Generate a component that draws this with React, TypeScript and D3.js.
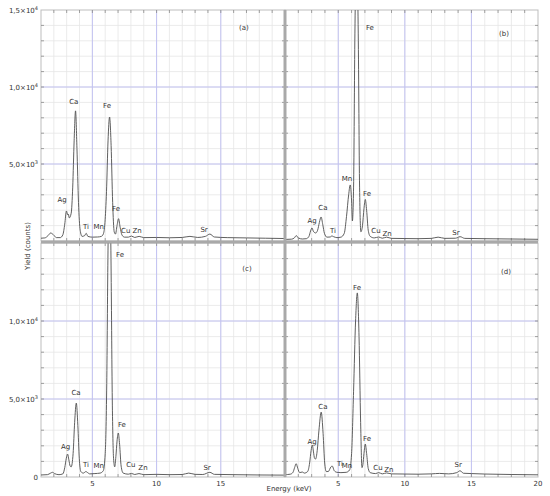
import React from 'react';
import * as d3 from 'd3';

type Pt = [number, number];
type Lbl = [string, number, number];

// spectra: [energy keV, counts]
const spectrumA: Pt[] = [
  [1.0, 180], [1.3, 200], [1.55, 350], [1.75, 520], [1.95, 420], [2.2, 220], [2.5, 220], [2.7, 400],
  [2.85, 1100], [2.98, 1950], [3.08, 1700], [3.13, 1750], [3.2, 1500], [3.35, 1800], [3.47, 3500],
  [3.58, 6500], [3.69, 8450], [3.8, 6000], [3.92, 2500], [4.05, 700], [4.2, 300], [4.4, 350], [4.52, 500],
  [4.65, 300], [5.0, 250], [5.4, 260], [5.7, 300], [5.85, 450], [5.98, 1200], [6.1, 3200], [6.22, 6500],
  [6.34, 8050], [6.46, 6200], [6.58, 2500], [6.7, 600], [6.8, 450], [6.92, 1000], [7.04, 1450], [7.16, 900],
  [7.3, 400], [7.5, 250], [7.8, 250], [8.04, 320], [8.3, 230], [8.64, 300], [9.0, 220], [10, 230], [11, 210],
  [12, 230], [12.6, 300], [13.2, 230], [13.8, 300], [14.15, 450], [14.5, 260], [15.5, 220], [17, 200],
  [18.5, 180], [20, 160],
];

const spectrumB: Pt[] = [
  [1.0, 100], [1.5, 120], [1.7, 200], [1.85, 350], [2.0, 200], [2.3, 130], [2.6, 150], [2.8, 300],
  [2.92, 650], [3.03, 850], [3.12, 650], [3.2, 560], [3.3, 520], [3.45, 700], [3.58, 1200], [3.71, 1560],
  [3.84, 1050], [3.96, 500], [4.15, 250], [4.4, 260], [4.52, 330], [4.65, 280], [4.9, 220], [5.2, 250],
  [5.45, 500], [5.62, 1600], [5.78, 3000], [5.9, 3640], [6.0, 2600], [6.06, 1300], [6.15, 3500],
  [6.25, 13500], [6.38, 19000], [6.5, 13500], [6.6, 3500], [6.7, 600], [6.82, 1000], [6.93, 2100],
  [7.03, 2700], [7.13, 2000], [7.25, 700], [7.4, 300], [7.7, 200], [8.04, 260], [8.3, 180], [8.63, 250],
  [9, 170], [10, 160], [11, 150], [12, 170], [12.5, 250], [13, 170], [13.8, 180], [14.15, 280], [14.5, 170],
  [16, 150], [18, 130], [20, 110],
];

const spectrumC: Pt[] = [
  [1.0, 130], [1.5, 150], [1.75, 250], [1.9, 300], [2.05, 220], [2.4, 150], [2.7, 200], [2.85, 600],
  [2.97, 1200], [3.07, 1470], [3.17, 1100], [3.27, 700], [3.35, 650], [3.5, 1500], [3.62, 3500],
  [3.75, 4740], [3.87, 3300], [3.98, 1200], [4.1, 350], [4.3, 250], [4.5, 350], [4.6, 300], [4.8, 200],
  [5.2, 220], [5.6, 250], [5.85, 400], [6.0, 1500], [6.12, 6000], [6.21, 14000], [6.33, 20000],
  [6.45, 14000], [6.55, 5000], [6.65, 1200], [6.74, 650], [6.83, 1300], [6.92, 2300], [7.02, 2820],
  [7.12, 2100], [7.24, 700], [7.4, 250], [7.8, 180], [8.04, 230], [8.3, 160], [8.63, 220], [9, 150],
  [10, 170], [11, 150], [12, 160], [12.5, 250], [13, 170], [13.6, 160], [14.15, 300], [14.5, 170],
  [16, 150], [18, 130], [20, 120],
];

const spectrumD: Pt[] = [
  [1.0, 150], [1.4, 180], [1.6, 300], [1.72, 600], [1.84, 850], [1.96, 550], [2.1, 280], [2.3, 320],
  [2.45, 250], [2.7, 350], [2.85, 900], [2.96, 1700], [3.05, 2050], [3.14, 1600], [3.22, 1200], [3.3, 1150],
  [3.42, 1700], [3.55, 3000], [3.72, 4160], [3.86, 2800], [3.98, 900], [4.1, 350], [4.25, 350], [4.45, 650],
  [4.55, 700], [4.7, 400], [4.9, 300], [5.2, 280], [5.6, 300], [5.85, 450], [6.0, 1500], [6.15, 5500],
  [6.3, 10000], [6.43, 11800], [6.56, 9000], [6.68, 3500], [6.78, 600], [6.85, 800], [6.93, 1500],
  [7.03, 2110], [7.13, 1500], [7.25, 550], [7.4, 280], [7.8, 220], [8.04, 280], [8.3, 200], [8.63, 260],
  [9, 200], [10, 190], [11, 180], [12, 200], [12.6, 230], [13.3, 200], [13.9, 280], [14.15, 400],
  [14.4, 240], [15, 220], [16, 190], [18, 160], [20, 140],
];

// peak labels: [text, energy, counts] (baseline of text)
const labelsA: Lbl[] = [
  ['Ca', 3.55, 8890], ['Fe', 6.14, 8630], ['Ag', 2.64, 2530], ['Ti', 4.5, 780], ['Mn', 5.5, 780],
  ['Fe', 6.84, 1950], ['Cu', 7.6, 520], ['Zn', 8.48, 520], ['Sr', 13.7, 580],
];
const labelsB: Lbl[] = [
  ['Fe', 7.38, 13700], ['Mn', 5.66, 3890], ['Fe', 7.16, 2920], ['Ca', 3.85, 2010], ['Ag', 3.03, 1170],
  ['Ti', 4.6, 520], ['Cu', 7.83, 520], ['Zn', 8.66, 325], ['Sr', 13.84, 390],
];
const labelsC: Lbl[] = [
  ['Fe', 7.15, 14100], ['Ca', 3.73, 5260], ['Ag', 2.92, 1800], ['Ti', 4.5, 640], ['Mn', 5.5, 580],
  ['Fe', 7.3, 3200], ['Cu', 8.0, 640], ['Zn', 8.94, 450], ['Sr', 13.93, 450],
];
const labelsD: Lbl[] = [
  ['Fe', 6.41, 12000], ['Ca', 3.85, 4360], ['Ag', 3.03, 2110], ['Ti', 5.13, 700], ['Mn', 5.66, 580],
  ['Fe', 7.16, 2300], ['Cu', 7.98, 450], ['Zn', 8.8, 320], ['Sr', 14.0, 640],
];

const panelTags = ['(a)', '(b)', '(c)', '(d)'];
const tagPos: Pt[] = [[16.8, 13700], [17.45, 13300], [17.04, 13200], [17.6, 13000]];

const xTickValues = [5, 10, 15, 20];
const yMajorValues = [5000, 10000];
// [value, mantissa, exponent]
const yTicksTop: [number, string, string][] = [[15000, '1,5×10', '4'], [10000, '1,0×10', '4'], [5000, '5,0×10', '3']];
const yTicksBottom: [number, string, string][] = [[10000, '1,0×10', '4'], [5000, '5,0×10', '3'], [0, '0', '']];

const W = 550;
const H = 496;
const COLS: Pt[] = [[41, 285], [285, 538]];
const ROWS: Pt[] = [[241, 10], [477, 243]];
const FONT = 'DejaVu Sans, sans-serif';

function Panel({ idx, data, labels }: { idx: number; data: Pt[]; labels: Lbl[] }) {
  const col = idx % 2;
  const row = Math.floor(idx / 2);
  const x = d3.scaleLinear().domain([1, 20]).range(COLS[col]);
  const y = d3.scaleLinear().domain([0, 15000]).range(ROWS[row]);
  const line = d3.line<Pt>().x(d => x(d[0])).y(d => y(d[1])).curve(d3.curveMonotoneX);
  const [x0, x1] = x.range();
  const [y0, y1] = [y(15000), y(0)];
  const minorX = d3.range(2, 20);
  const minorY = d3.range(1000, 15000, 1000);
  const clipId = `clip-${idx}`;

  return (
    <g>
      <defs>
        <clipPath id={clipId}>
          <rect x={x0} y={y0} width={x1 - x0} height={y1 - y0} />
        </clipPath>
      </defs>
      {minorX.map(v => (
        <line key={`mx${v}`} x1={x(v)} x2={x(v)} y1={y0} y2={y1} stroke="#e6e6e6" strokeWidth={0.8} />
      ))}
      {minorY.map(v => (
        <line key={`my${v}`} x1={x0} x2={x1} y1={y(v)} y2={y(v)} stroke="#e6e6e6" strokeWidth={0.8} />
      ))}
      {xTickValues.filter(v => v < 20).map(v => (
        <line key={`Mx${v}`} x1={x(v)} x2={x(v)} y1={y0} y2={y1} stroke="#c2c2f2" strokeWidth={1} />
      ))}
      {yMajorValues.map(v => (
        <line key={`My${v}`} x1={x0} x2={x1} y1={y(v)} y2={y(v)} stroke="#c2c2f2" strokeWidth={1} />
      ))}
      <rect x={x0} y={y0} width={x1 - x0} height={y1 - y0} fill="none" stroke="#bdbdbd" strokeWidth={1} />
      {minorX.map(v => (
        <g key={`tx${v}`} stroke="#8a8a8a" strokeWidth={0.8}>
          <line x1={x(v)} x2={x(v)} y1={y0} y2={y0 + 3} />
          <line x1={x(v)} x2={x(v)} y1={y1} y2={y1 - 3} />
        </g>
      ))}
      {minorY.map(v => (
        <g key={`ty${v}`} stroke="#8a8a8a" strokeWidth={0.8}>
          <line x1={x0} x2={x0 + 3} y1={y(v)} y2={y(v)} />
          <line x1={x1} x2={x1 - 3} y1={y(v)} y2={y(v)} />
        </g>
      ))}
      <path d={line(data) ?? ''} fill="none" stroke="#4d4d4d" strokeWidth={0.9} clipPath={`url(#${clipId})`} />
      <g fontFamily={FONT} fontSize={7} fill="#333" textAnchor="middle">
        {labels.map((l, i) => (
          <text key={i} x={x(l[1])} y={y(l[2])}>{l[0]}</text>
        ))}
        <text x={x(tagPos[idx][0])} y={y(tagPos[idx][1])}>{panelTags[idx]}</text>
      </g>
      {row === 1 && (
        <g fontFamily={FONT} fontSize={7} fill="#333" textAnchor="middle">
          {xTickValues.filter(v => col === 1 || v < 20).map(v => (
            <text key={v} x={x(v)} y={y(0) + 9}>{v}</text>
          ))}
        </g>
      )}
      {col === 0 && (
        <g fontFamily={FONT} fontSize={7} fill="#333" textAnchor="end">
          {(row === 0 ? yTicksTop : yTicksBottom).map(t => (
            <text key={t[0]} x={x0 - 3} y={y(t[0]) + 2.5}>
              {t[1]}
              {t[2] && <tspan dy={-3} fontSize={5}>{t[2]}</tspan>}
            </text>
          ))}
        </g>
      )}
    </g>
  );
}

export default function App() {
  const spectra = [spectrumA, spectrumB, spectrumC, spectrumD];
  const labels = [labelsA, labelsB, labelsC, labelsD];
  return (
    <svg width={W} height={H} style={{ position: 'absolute', left: 0, top: 0, background: '#fff' }}>
      <rect width={W} height={H} fill="#fff" />
      {spectra.map((s, i) => (
        <Panel key={i} idx={i} data={s} labels={labels[i]} />
      ))}
      <line x1={285} x2={285} y1={10} y2={477} stroke="#a9a9a9" strokeWidth={3} />
      <line x1={41} x2={538} y1={242} y2={242} stroke="#a9a9a9" strokeWidth={3} />
      <text x={289} y={491} fontFamily={FONT} fontSize={7} fill="#333" textAnchor="middle">Energy (keV)</text>
      <text transform="translate(30,246) rotate(-90)" fontFamily={FONT} fontSize={7} fill="#333" textAnchor="middle">
        Yield (counts)
      </text>
    </svg>
  );
}
